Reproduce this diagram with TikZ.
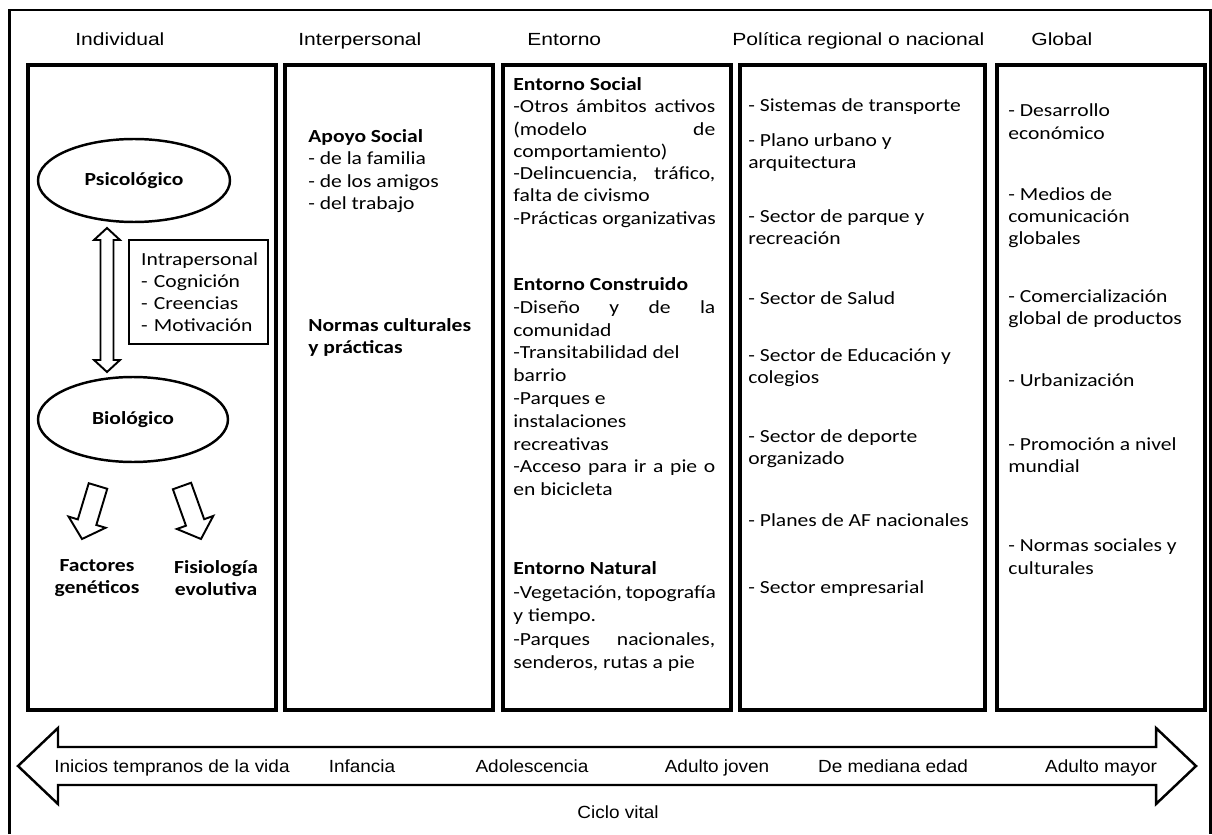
\documentclass[tikz,border=0pt]{standalone}
\usepackage{fontspec}
\setmainfont{Carlito}[FakeStretch=1.17]
\newfontfamily\headfont{Liberation Sans}[FakeStretch=1.2]
\newfontfamily\stagefont{Liberation Sans}[FakeStretch=1.08]
\usetikzlibrary{shapes.geometric,calc}
\newcommand{\bsz}{\fontsize{10.5}{12.65}\selectfont}
\newcommand{\jline}[1]{\makebox[4.04cm][s]{#1}}

\begin{document}
\begin{tikzpicture}[x=0.02cm,y=-0.02cm,font=\bsz,
  colbox/.style={line width=1.9pt},
  head/.style={font=\headfont\fontsize{10}{12}\selectfont,anchor=base west,inner sep=0pt},
  body/.style={anchor=base west,inner sep=0pt},
  oval/.style={ellipse,draw,line width=1.4pt,inner sep=0pt,font=\bsz\bfseries},
  hollow/.style={draw,line width=1.1pt,line join=miter},
  stage/.style={font=\stagefont\fontsize{10}{12}\selectfont,inner sep=0pt,anchor=base}]
\useasboundingbox (0,0) rectangle (1212,834);
\draw[line width=1.5pt] (9.5,834) -- (9.5,10) -- (1210.5,10) -- (1210.5,834);
\foreach \xa/\xb in {28/276,285/493,503/731,740/985,997/1205}
  \draw[colbox] (\xa,65) rectangle (\xb,710);

\node[head] (hind) at (75,45.5) {Individual};
\node[head] (hint) at (298,45.5) {Interpersonal};
\node[head] (hent) at (527,45.5) {Entorno};
\node[head] (hpol) at (732,45.5) {Política regional o nacional};
\node[head] (hglo) at (1031,45.5) {Global};

\node[oval,minimum width=3.84cm,minimum height=1.66cm] (psi) at (134,180.5) {Psicológico};
\node[oval,minimum width=3.8cm,minimum height=1.7cm] (bio) at (133,419.5) {Biológico};
\node[draw,line width=1.4pt,anchor=north west,minimum width=2.78cm,minimum height=2.08cm,
  align=left,text width=2.3cm,inner xsep=0.24cm] (intra) at (128,239)
  {Intrapersonal\\- Cognición\\- Creencias\\- Motivación};
\coordinate (dtop) at (107,228);
\coordinate (dbot) at (107,372);
\draw[hollow] (dtop) -- ++(13,12) -- ++(-6.5,0) -- ($(dbot)+(6.5,-12)$) -- ++(6.5,0)
  -- (dbot) -- ++(-13,-12) -- ++(6.5,0) -- ($(dtop)+(-6.5,12)$) -- ++(-6.5,0) -- cycle;
\coordinate (ga) at (98,486);
\coordinate (gb) at (82,539);
\coordinate (fa) at (182,486);
\coordinate (fb) at (201,539);
\foreach \a/\b in {ga/gb,fa/fb}
  \draw[hollow] ($(\a)!5.5pt!90:(\b)$) -- ($(\b)!10pt!(\a)!5.5pt!90:(\b)$)
    -- ($(\b)!10pt!(\a)!11pt!90:(\b)$) -- (\b) -- ($(\b)!10pt!(\a)!11pt!-90:(\b)$)
    -- ($(\b)!10pt!(\a)!5.5pt!-90:(\b)$) -- ($(\a)!5.5pt!-90:(\b)$) -- cycle;
\node[font=\bsz\bfseries,align=center] (fac) at (97,578) {Factores\\genéticos};
\node[font=\bsz\bfseries,align=center] (fis) at (216,578) {Fisiología\\evolutiva};

\foreach \y/\t [count=\i] in {142.5/\textbf{Apoyo Social},164.9/- de la familia,
    187.3/- de los amigos,209.7/- del trabajo,331/\textbf{Normas culturales},353.4/\textbf{y prácticas}}
  \node[body] (ip\i) at (308,\y) {\t};

\foreach \y/\t [count=\i] in {90.5/\textbf{Entorno Social},112.8/\jline{-Otros ámbitos activos},
    135.1/\jline{(modelo de},157.4/comportamiento),179.7/{\jline{-Delincuencia, tráfico,}},
    202/falta de civismo,224.3/-Prácticas organizativas,
    290.5/\textbf{Entorno Construido},313.3/\jline{-Diseño y de la},336.1/comunidad,
    358.9/-Transitabilidad del,381.7/barrio,404.5/-Parques e,427.3/instalaciones,
    450.1/recreativas,472.9/\jline{-Acceso para ir a pie o},495.7/en bicicleta,
    574.5/\textbf{Entorno Natural},598/{\jline{-Vegetación, topografía}},621.5/y tiempo.,
    645/{\jline{-Parques nacionales,}},668.5/{senderos, rutas a pie}}
  \node[body] (en\i) at (513,\y) {\t};

\foreach \y/\t [count=\i] in {111.5/- Sistemas de transporte,146.5/- Plano urbano y,
    168.5/arquitectura,222.5/- Sector de parque y,244.5/recreación,304.5/- Sector de Salud,
    361.5/- Sector de Educación y,383.5/colegios,442.5/- Sector de deporte,464.5/organizado,
    526.5/- Planes de AF nacionales,593.5/- Sector empresarial}
  \node[body] (po\i) at (748,\y) {\t};

\foreach \y/\t [count=\i] in {116.5/- Desarrollo,139.5/económico,200.5/- Medios de,
    222.5/comunicación,244.5/globales,302.5/- Comercialización,324.5/global de productos,
    386.5/- Urbanización,450.5/- Promoción a nivel,472.5/mundial,551.5/- Normas sociales y,
    574.5/culturales}
  \node[body] (gl\i) at (1008,\y) {\t};

\draw[line width=1.4pt,line join=miter] (18,766) -- (58,728) -- (58,747) -- (1156,747)
  -- (1156,728) -- (1196,766) -- (1156,804) -- (1156,785) -- (58,785) -- (58,804) -- cycle;
\foreach \x/\t in {172/Inicios tempranos de la vida,362/Infancia,532/Adolescencia,
    717/Adulto joven,893/De mediana edad,1101/Adulto mayor}
  \node[stage] (st\x) at (\x,772) {\t};
\node[stage] (ciclo) at (618,818) {Ciclo vital};
\end{tikzpicture}
\end{document}
